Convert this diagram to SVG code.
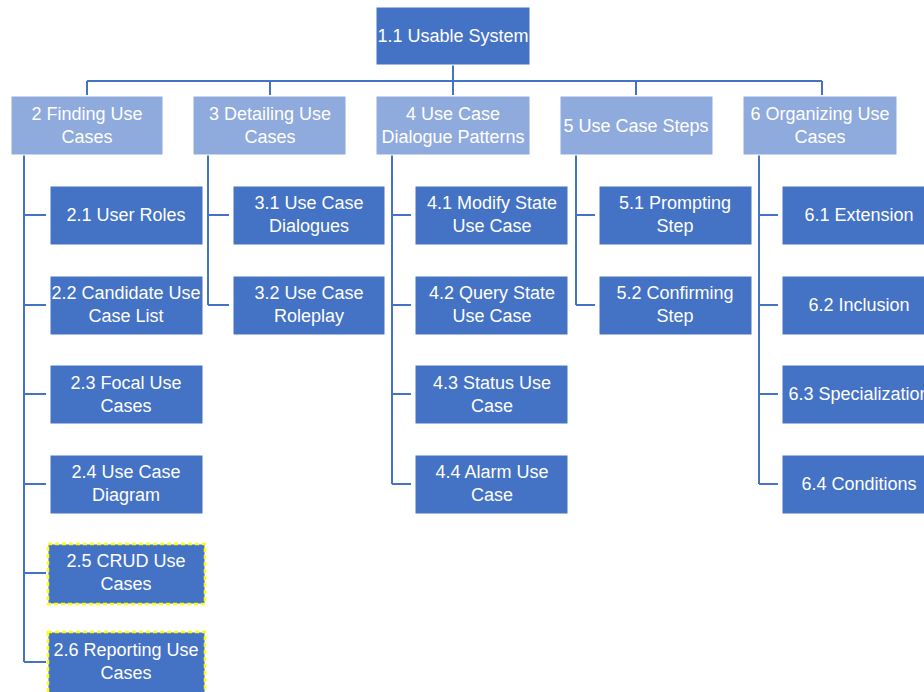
<svg xmlns="http://www.w3.org/2000/svg" width="924" height="692" viewBox="0 0 924 692">
<style>
.p{fill:#8FAADC;stroke:#FFFFFF;stroke-width:1}
.c{fill:#4472C4;stroke:#FFFFFF;stroke-width:1}
.hl{stroke:#FFFF00;stroke-width:2.5;stroke-dasharray:4 3;fill:none}
text{font-family:"Liberation Sans","Open Sans",sans-serif;font-size:18px;fill:#FFFFFF;text-anchor:middle;dominant-baseline:central}
.ln{stroke:#4472C4;stroke-width:2;fill:none}
</style>
<rect width="924" height="692" fill="#FFFFFF"/>
<g id="connectors" class="ln">
<path d="M453,65V95M87,81H822M87,81V95M270,81V95M636,81V95M822,81V95"/>
<path d="M24,155V662M24,215H46M24,305H46M24,394H46M24,484H46M24,573H46M24,662H46"/>
<path d="M208,155V305M208,215H229M208,305H229"/>
<path d="M392,155V484M392,215H411M392,305H411M392,394H411M392,484H411"/>
<path d="M576,155V305M576,215H595M576,305H595"/>
<path d="M759,155V484M759,215H778M759,305H778M759,394H778M759,484H778"/>
</g>
<g id="n1_1"><rect class="c" x="376" y="7" width="154" height="58"/><text x="453" y="36">1.1 Usable System</text></g>
<g id="n2"><rect class="p" x="11" y="96" width="152" height="59"/><text x="87" y="114">2 Finding Use</text><text x="87" y="137">Cases</text></g>
<g id="n3"><rect class="p" x="193" y="96" width="153" height="59"/><text x="270" y="114">3 Detailing Use</text><text x="270" y="137">Cases</text></g>
<g id="n4"><rect class="p" x="376" y="96" width="154" height="59"/><text x="453" y="114">4 Use Case</text><text x="453" y="137">Dialogue Patterns</text></g>
<g id="n5"><rect class="p" x="560" y="96" width="153" height="59"/><text x="636" y="126">5 Use Case Steps</text></g>
<g id="n6"><rect class="p" x="743" y="96" width="154" height="59"/><text x="820" y="114">6 Organizing Use</text><text x="820" y="137">Cases</text></g>

<g id="n2_1"><rect class="c" x="50" y="186" width="153" height="59"/><text x="126" y="215">2.1 User Roles</text></g>
<g id="n2_2"><rect class="c" x="50" y="276" width="153" height="59"/><text x="126" y="293">2.2 Candidate Use</text><text x="126" y="316">Case List</text></g>
<g id="n2_3"><rect class="c" x="50" y="365" width="153" height="59"/><text x="126" y="383">2.3 Focal Use</text><text x="126" y="406">Cases</text></g>
<g id="n2_4"><rect class="c" x="50" y="455" width="153" height="59"/><text x="126" y="472">2.4 Use Case</text><text x="126" y="495">Diagram</text></g>
<g id="n2_5"><rect class="c" x="48" y="544" width="157" height="60"/><rect class="hl" x="48" y="544" width="157" height="60"/><text x="126" y="561">2.5 CRUD Use</text><text x="126" y="584">Cases</text></g>
<g id="n2_6"><rect class="c" x="48" y="632" width="157" height="62"/><rect class="hl" x="48" y="632" width="157" height="62"/><text x="126" y="650">2.6 Reporting Use</text><text x="126" y="673">Cases</text></g>

<g id="n3_1"><rect class="c" x="233" y="186" width="152" height="59"/><text x="309" y="203">3.1 Use Case</text><text x="309" y="226">Dialogues</text></g>
<g id="n3_2"><rect class="c" x="233" y="276" width="152" height="59"/><text x="309" y="293">3.2 Use Case</text><text x="309" y="316">Roleplay</text></g>

<g id="n4_1"><rect class="c" x="415" y="186" width="153" height="59"/><text x="492" y="203">4.1 Modify State</text><text x="492" y="226">Use Case</text></g>
<g id="n4_2"><rect class="c" x="415" y="276" width="153" height="59"/><text x="492" y="293">4.2 Query State</text><text x="492" y="316">Use Case</text></g>
<g id="n4_3"><rect class="c" x="415" y="365" width="153" height="59"/><text x="492" y="383">4.3 Status Use</text><text x="492" y="406">Case</text></g>
<g id="n4_4"><rect class="c" x="415" y="455" width="153" height="59"/><text x="492" y="472">4.4 Alarm Use</text><text x="492" y="495">Case</text></g>

<g id="n5_1"><rect class="c" x="599" y="186" width="153" height="59"/><text x="675" y="203">5.1 Prompting</text><text x="675" y="226">Step</text></g>
<g id="n5_2"><rect class="c" x="599" y="276" width="153" height="59"/><text x="675" y="293">5.2 Confirming</text><text x="675" y="316">Step</text></g>

<g id="n6_1"><rect class="c" x="782" y="186" width="154" height="59"/><text x="859" y="215">6.1 Extension</text></g>
<g id="n6_2"><rect class="c" x="782" y="276" width="154" height="59"/><text x="859" y="305">6.2 Inclusion</text></g>
<g id="n6_3"><rect class="c" x="782" y="365" width="154" height="59"/><text x="859" y="394">6.3 Specialization</text></g>
<g id="n6_4"><rect class="c" x="782" y="455" width="154" height="59"/><text x="859" y="484">6.4 Conditions</text></g>
</svg>
